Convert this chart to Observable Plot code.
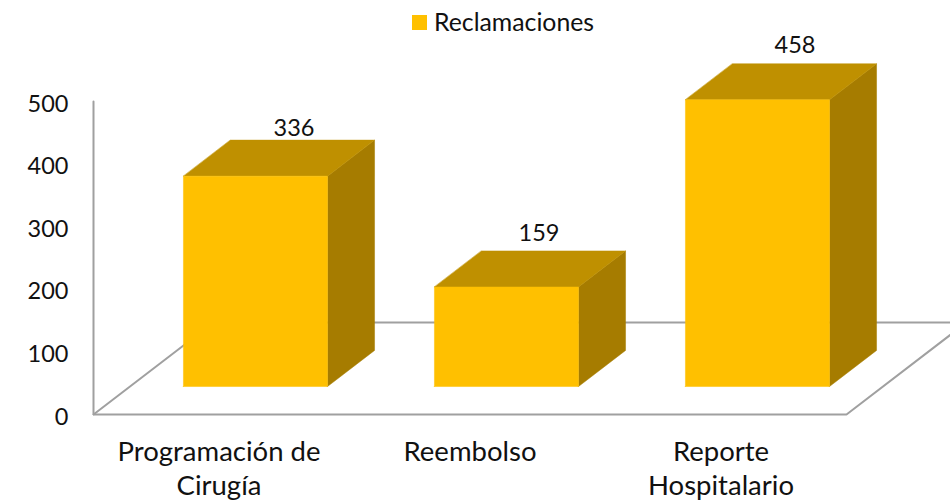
<!DOCTYPE html>
<html>
<head>
<meta charset="utf-8">
<script src="https://cdn.jsdelivr.net/npm/d3@7"></script>
<script src="https://cdn.jsdelivr.net/npm/@observablehq/plot@0.6"></script>
<style>
  html, body { margin: 0; padding: 0; background: #fff; width: 950px; height: 502px; overflow: hidden; }
  #legend { height: 20px; position: relative; font: 24.8px Lato, Carlito, sans-serif; color: #111; }
  #legend .sw { position: absolute; left: 412px; top: 15px; width: 15px; height: 15px; }
  #legend .lb { position: absolute; left: 434px; top: 7px; line-height: 30px; }
  #chart svg { display: block; }
</style>
</head>
<body>
<div id="legend"><span class="sw"></span><span class="lb"></span></div>
<div id="chart"></div>
<script>
const seriesName = "Reclamaciones";
const categories = ["Programación de\nCirugía", "Reembolso", "Reporte\nHospitalario"];
const values = [336, 159, 458];
const yTicks = [0, 100, 200, 300, 400, 500];

const labelDx = [3, -3, 2];
const labelDy = [-76, -81, -82];

const colors = { front: "#FFC000", top: "#BF9000", side: "#A67C00", line: "#A0A0A0", text: "#111111" };

// Oblique projection of the chart's 3D box: depth 0 = front of floor, 1 = back of floor.
const depthX = 0.478;   // category units per unit of depth
const depthY = 147;     // value units per unit of depth
const barFront = 0.304, barBack = 0.696, barWidth = 0.574, floorEnd = 3;
const pt = (cat, val, d) => ({ x: cat + d * depthX, y: val + d * depthY });

const faces = { front: [], side: [], top: [] };
values.forEach((v, i) => {
  const l = i + 0.5 - barWidth / 2, r = i + 0.5 + barWidth / 2;
  const add = (name, pts) => pts.forEach(p => faces[name].push({ ...p, bar: i }));
  add("side", [pt(r, 0, barFront), pt(r, 0, barBack), pt(r, v, barBack), pt(r, v, barFront)]);
  add("top", [pt(l, v, barFront), pt(r, v, barFront), pt(r, v, barBack), pt(l, v, barBack)]);
  add("front", [pt(l, 0, barFront), pt(r, 0, barFront), pt(r, v, barFront), pt(l, v, barFront), pt(l, 0, barFront)]);
});
const floorFront = [pt(0, 500, 0), pt(0, 0, 0), pt(floorEnd, 0, 0), pt(floorEnd, 0, 1)];
const floorLeft = [pt(0, 0, 0), pt(0, 0, 1)];
const floorBack = [pt(0, 0, 1), pt(floorEnd, 0, 1)];
const face = (name) => Plot.line(faces[name], { x: "x", y: "y", z: "bar", fill: colors[name], stroke: colors[name], strokeWidth: 0.5, curve: "linear-closed" });

document.querySelector("#legend .sw").style.background = colors.front;
document.querySelector("#legend .lb").textContent = seriesName;

const chart = Plot.plot({
  width: 950,
  height: 482,
  marginLeft: 93,
  marginRight: 104,
  marginTop: 81,
  marginBottom: 88,
  style: { fontFamily: "Lato, Carlito, sans-serif", background: "transparent", color: colors.text },
  x: { domain: [0, 3], axis: null },
  y: { domain: [0, 500], axis: null },
  marks: [
    Plot.line(floorBack, { x: "x", y: "y", stroke: colors.line, strokeWidth: 2 }),
    Plot.line(floorLeft, { x: "x", y: "y", stroke: colors.line, strokeWidth: 2 }),
    Plot.line(floorFront, { x: "x", y: "y", stroke: colors.line, strokeWidth: 2, strokeLinejoin: "miter" }),
    face("side"), face("top"), face("front"),
    Plot.axisY({ ticks: yTicks, tickSize: 0, tickPadding: 25, fontSize: 23.5, line: false, label: null, fill: colors.text, dy: 2.5 }),
    Plot.text(categories, { x: (d, i) => i + 0.5, y: () => 0, dy: 22, lineAnchor: "top", lineHeight: 1.25, fontSize: 27.5, fill: colors.text }),
    Plot.text(values, { x: (d, i) => i + 0.5 + barWidth / 2, y: (d) => d, fontSize: 23.5, fill: colors.text,
      render(index, scales, channels, dims, ctx, next) {
        const g = next(index, scales, channels, dims, ctx);
        d3.select(g).selectAll("text").attr("transform", function (_, k) {
          const i = index[k];
          return `translate(${channels.x[i] + labelDx[i]},${channels.y[i] + labelDy[i]})`;
        });
        return g;
      } })
  ]
});
document.getElementById("chart").appendChild(chart);
</script>
</body>
</html>
